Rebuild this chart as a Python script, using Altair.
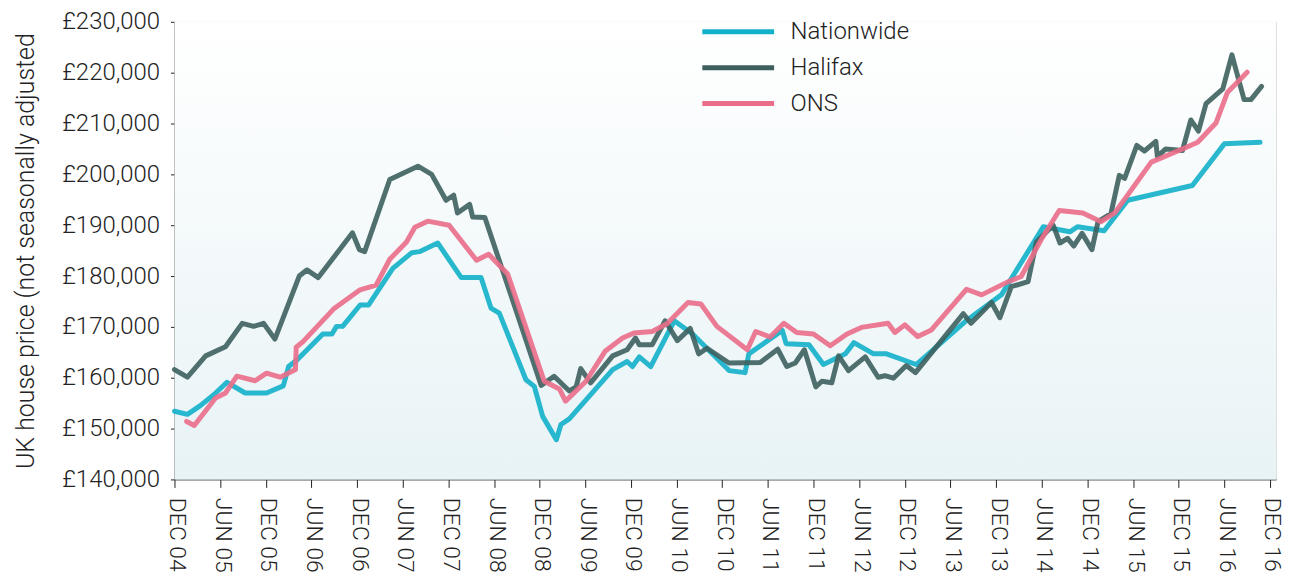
import altair as alt
import pandas as pd

# x values: months after December 2004; y values: £ thousands
nationwide_month = [0, 1.7, 3.4, 5.2, 6.9, 9.3, 12.1, 14.3, 15.0, 16.1, 19.5, 20.7, 21.3, 22.1,
                    24.4, 25.5, 28.7, 31.2, 32.2, 34.6, 37.7, 40.3, 41.6, 42.7, 46.2, 47.3, 48.4,
                    50.2, 50.8, 51.9, 57.6, 59.5, 60.2, 61.1, 62.6, 65.7, 68.1, 72.9, 75.0, 75.5,
                    79.9, 80.4, 83.4, 85.3, 88.2, 89.3, 91.9, 93.6, 97.5, 101.7, 103.9, 108.7,
                    114.2, 117.7, 118.7, 122.2, 125.3, 133.8, 138.0, 142.7]
nationwide_value = [153.4, 152.8, 154.5, 156.7, 159.1, 157.0, 157.0, 158.4, 162.2, 163.5, 168.6,
                    168.6, 170.1, 170.1, 174.3, 174.3, 181.5, 184.6, 184.8, 186.5, 179.7, 179.7,
                    173.7, 172.7, 159.6, 158.3, 152.4, 147.8, 150.8, 151.9, 161.6, 163.2, 162.2,
                    164.1, 162.2, 171.2, 168.6, 161.4, 161.0, 164.7, 169.3, 166.7, 166.5, 162.6,
                    164.7, 166.9, 164.7, 164.7, 162.6, 168.1, 171.0, 176.3, 189.7, 188.7, 189.7,
                    188.9, 194.9, 197.8, 206.0, 206.3]

halifax_month = [0, 1.7, 4.1, 6.7, 8.9, 10.4, 11.7, 13.2, 16.4, 17.4, 18.9, 23.4, 24.3, 25.0,
                 28.3, 32.0, 33.8, 35.7, 36.7, 37.2, 38.8, 39.2, 40.8, 48.2, 49.9, 51.9, 52.8,
                 53.4, 54.7, 57.6, 59.5, 60.6, 61.1, 62.8, 64.5, 66.1, 67.8, 68.9, 70.0, 72.9,
                 77.0, 79.3, 80.5, 81.6, 82.8, 84.3, 85.1, 86.4, 87.3, 88.6, 90.8, 92.5, 93.4,
                 94.5, 96.2, 97.4, 103.7, 104.7, 107.4, 108.5, 110.0, 112.2, 113.3, 115.5,
                 116.4, 117.4, 118.2, 119.3, 120.6, 121.4, 123.1, 124.2, 124.9, 126.5, 127.5,
                 129.0, 129.2, 130.3, 132.5, 133.6, 134.6, 135.6, 137.8, 139.0, 140.6, 141.5,
                 142.9]
halifax_value = [161.6, 160.1, 164.3, 166.1, 170.7, 170.1, 170.7, 167.6, 180.0, 181.2, 179.7,
                 188.5, 185.2, 184.8, 199.0, 201.6, 200.0, 194.9, 195.9, 192.4, 194.1, 191.6,
                 191.5, 158.5, 160.3, 157.4, 158.2, 161.8, 159.0, 164.3, 165.5, 167.8, 166.5,
                 166.5, 171.2, 167.3, 169.7, 164.7, 165.8, 162.9, 163.0, 165.6, 162.2, 162.9,
                 165.5, 158.2, 159.3, 159.0, 164.3, 161.4, 164.1, 160.1, 160.4, 159.9, 162.4,
                 161.0, 172.6, 170.7, 174.8, 171.8, 177.9, 178.9, 186.7, 190.0, 186.5, 187.4,
                 185.9, 188.4, 185.2, 190.7, 192.3, 199.8, 199.2, 205.7, 204.6, 206.5, 203.5,
                 205.0, 204.7, 210.7, 208.5, 213.9, 216.8, 223.5, 214.7, 214.7, 217.3]

ons_month = [1.6, 2.6, 5.4, 6.7, 8.2, 10.6, 12.1, 13.9, 15.9, 16.0, 16.9, 20.9, 24.4, 26.5,
             28.3, 30.5, 31.6, 33.3, 36.1, 39.7, 41.3, 43.8, 48.6, 50.6, 51.4, 54.1, 56.6,
             58.9, 60.4, 62.8, 64.8, 67.5, 69.2, 71.3, 75.3, 76.4, 78.3, 80.1, 81.8, 84.0,
             86.2, 88.4, 90.3, 93.8, 94.7, 96.0, 97.7, 99.5, 104.1, 106.1, 109.6, 111.3,
             113.9, 116.3, 119.4, 121.8, 123.6, 128.4, 132.5, 134.5, 136.9, 138.4, 141.0]
ons_value = [151.4, 150.6, 156.0, 157.0, 160.3, 159.4, 160.9, 160.1, 161.6, 166.0, 167.1,
             173.5, 177.3, 178.2, 183.3, 186.7, 189.6, 190.8, 190.0, 183.1, 184.3, 180.4,
             159.3, 157.8, 155.4, 159.3, 165.2, 167.8, 168.8, 169.1, 170.7, 174.8, 174.5,
             170.1, 165.5, 169.1, 168.0, 170.7, 168.9, 168.6, 166.3, 168.6, 169.9, 170.7,
             168.9, 170.4, 168.1, 169.4, 177.4, 176.3, 178.9, 179.9, 187.1, 192.9, 192.4,
             190.7, 192.4, 202.4, 205.0, 206.3, 210.1, 216.1, 220.1]

series_names = ["Nationwide", "Halifax", "ONS"]
series_colors = ["#12b0c9", "#3d605e", "#ea6d8a"]
tick_months = list(range(0, 145, 6))
tick_labels = ["DEC 04", "JUN 05", "DEC 05", "JUN 06", "DEC 06", "JUN 07", "DEC 07", "JUN 08",
               "DEC 08", "JUN 09", "DEC 09", "JUN 10", "DEC 10", "JUN 11", "DEC 11", "JUN 12",
               "DEC 12", "JUN 13", "DEC 13", "JUN 14", "DEC 14", "JUN 15", "DEC 15", "JUN 16",
               "DEC 16"]
y_ticks = list(range(140000, 230001, 10000))

frames = []
for name, months, vals in [("Nationwide", nationwide_month, nationwide_value),
                           ("Halifax", halifax_month, halifax_value),
                           ("ONS", ons_month, ons_value)]:
    frames.append(pd.DataFrame({"month": months, "price": [v * 1000 for v in vals],
                                "series": name, "order": range(len(months))}))
df = pd.concat(frames, ignore_index=True)

FONT = "Roboto"
label_array = "[" + ",".join("'" + t + "'" for t in tick_labels) + "]"

background = alt.Chart(pd.DataFrame({"a": [0]})).mark_rect(
    color=alt.Gradient(gradient="linear", x1=0, y1=0, x2=0, y2=1,
                       stops=[alt.GradientStop(offset=0, color="#ffffff"),
                              alt.GradientStop(offset=1, color="#e8f3f6")])
).encode(x=alt.value(0), x2=alt.value("width"), y=alt.value(0), y2=alt.value("height"))

lines = alt.Chart(df).mark_line(strokeWidth=5, strokeCap="round", strokeJoin="round",
                                opacity=0.9).encode(
    x=alt.X("month:Q",
            scale=alt.Scale(domain=[0, 144.8], nice=False, zero=False),
            axis=alt.Axis(values=tick_months, labelExpr=label_array + "[round(datum.value/6)]",
                          labelAngle=90, tickSize=8, labelPadding=10, grid=False,
                          title=None, labelFontSize=23, labelColor="#222",
                          labelFont=FONT, labelFontWeight=300,
                          domainColor="#444", tickColor="#222", labelOffset=2)),
    y=alt.Y("price:Q",
            scale=alt.Scale(domain=[140000, 230000], nice=False, zero=False),
            axis=alt.Axis(values=y_ticks, labelExpr="'£' + format(datum.value, ',')",
                          tickSize=4, labelPadding=11, grid=False,
                          title="UK house price (not seasonally adjusted",
                          titleFontSize=25, titleFont=FONT, titleFontWeight=300,
                          titleColor="#222", titlePadding=23,
                          labelFontSize=24, labelColor="#222", labelFont=FONT,
                          labelFontWeight=300, domainColor="#222", tickColor="#222")),
    color=alt.Color("series:N",
                    scale=alt.Scale(domain=series_names, range=series_colors),
                    legend=alt.Legend(orient="none", legendX=527, legendY=-1, title=None,
                                      symbolType="stroke", symbolSize=5184,
                                      symbolStrokeWidth=5, labelFontSize=24,
                                      labelFont=FONT, labelFontWeight=300,
                                      labelColor="#222", labelOffset=14,
                                      clipHeight=22, rowPadding=12, padding=0,
                                      symbolOpacity=1)),
    order="order:Q",
)

chart = alt.layer(background, lines).properties(
    width=1105, height=459,
    padding={"left": 5, "top": 1, "right": 5, "bottom": 0},
).configure_view(stroke=None).configure(font=FONT)

chart.save("out.html", embed_options={"renderer": "svg", "actions": False})
